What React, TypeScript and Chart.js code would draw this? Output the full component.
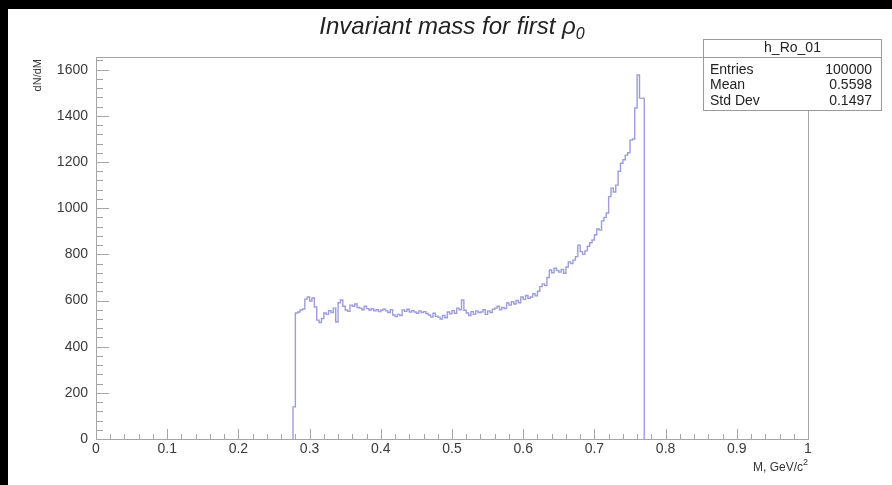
import React, { useEffect, useRef } from "react";
import { Chart, registerables } from "chart.js";

Chart.register(...registerables);

// Histogram h_Ro_01: 300 bins on [0, 1]; counts of the non-empty bins
const nBins = 300;
const firstBin = 83;
const binCounts = [
  139,
  546, 550, 559, 563, 606, 615, 598, 611, 572, 515,
  505, 522, 546, 540, 556, 548, 567, 507, 590, 602,
  575, 559, 553, 580, 575, 585, 570, 567, 560, 575,
  565, 559, 565, 555, 560, 552, 559, 562, 555, 548,
  560, 537, 530, 540, 535, 559, 553, 562, 550, 556,
  550, 545, 555, 548, 552, 544, 537, 528, 545, 532,
  528, 520, 535, 525, 550, 542, 556, 545, 567, 560,
  602, 558, 546, 535, 552, 540, 555, 548, 550, 560,
  540, 555, 548, 562, 567, 575, 560, 570, 565, 589,
  580, 595, 585, 600, 590, 615, 605, 622, 610, 615,
  630, 620, 640, 660, 672, 665, 700, 732, 720, 740,
  730, 723, 735, 718, 745, 767, 760, 775, 790, 840,
  812, 800, 815, 835, 850, 862, 885, 910, 905, 945,
  960, 979, 1050, 1087, 1070, 1100, 1160, 1195, 1210, 1230,
  1240, 1295, 1300, 1434, 1577, 1477, 1477,
];

const xTickLabels = ["0", "0.1", "0.2", "0.3", "0.4", "0.5", "0.6", "0.7", "0.8", "0.9", "1"];
const yTickValues = [0, 200, 400, 600, 800, 1000, 1200, 1400, 1600];

const titleText = "Invariant mass for first \u03c1";
const titleSub = "0";
const statsName = "h_Ro_01";
const statsLabels = ["Entries", "Mean", "Std Dev"];
const statsValues = ["100000", "0.5598", "0.1497"];
const xTitle = "M, GeV/c";
const xTitleSup = "2";
const yTitle = "dN/dM";

const X_MIN = 0;
const X_MAX = 1;
const Y_MIN = 0;
const Y_MAX = 1655;

const FONT = '"Liberation Sans", Arial, Helvetica, sans-serif';

function buildPoints() {
  const pts: { x: number; y: number }[] = [];
  const e0 = firstBin / nBins;
  pts.push({ x: e0, y: 0 });
  binCounts.forEach((c, i) => {
    pts.push({ x: (firstBin + i) / nBins, y: c });
  });
  pts.push({ x: (firstBin + binCounts.length) / nBins, y: 0 });
  return pts;
}

const decorPlugin = {
  id: "rootDecor",
  beforeDraw(chart: any) {
    const { ctx, width, height } = chart;
    ctx.save();
    ctx.fillStyle = "#000";
    ctx.fillRect(0, 0, width, height);
    ctx.fillStyle = "#fff";
    ctx.fillRect(8, 9, width - 8, height - 9);
    ctx.restore();
  },
  afterDraw(chart: any) {
    const { ctx, chartArea } = chart;
    const xs = chart.scales.x;
    const ys = chart.scales.y;
    const { left, right, top, bottom } = chartArea;
    ctx.save();
    // frame
    ctx.strokeStyle = "#a6a6a6";
    ctx.lineWidth = 1;
    ctx.strokeRect(Math.round(left) + 0.5, Math.round(top) + 0.5, Math.round(right - left), Math.round(bottom - top));
    // x ticks (inward)
    ctx.beginPath();
    for (let k = 0; k <= 50; k++) {
      const v = k * 0.02;
      const px = Math.round(xs.getPixelForValue(v)) + 0.5;
      const len = k % 5 === 0 ? 10 : 5;
      ctx.moveTo(px, bottom);
      ctx.lineTo(px, bottom - len);
    }
    // y ticks (inward)
    for (let v = 0; v <= Y_MAX; v += 40) {
      const py = Math.round(ys.getPixelForValue(v)) + 0.5;
      const len = v % 200 === 0 ? 13 : 7;
      ctx.moveTo(left, py);
      ctx.lineTo(left + len, py);
    }
    ctx.stroke();

    // title
    ctx.fillStyle = "#222";
    ctx.textBaseline = "alphabetic";
    ctx.font = `italic 24px ${FONT}`;
    const tw = ctx.measureText(titleText).width;
    ctx.font = `italic 16px ${FONT}`;
    const sw = ctx.measureText(titleSub).width;
    const tx = 452 - (tw + sw) / 2;
    ctx.font = `italic 24px ${FONT}`;
    ctx.textAlign = "left";
    ctx.fillText(titleText, tx, 34);
    ctx.font = `italic 16px ${FONT}`;
    ctx.fillText(titleSub, tx + tw, 39);

    // x title
    ctx.fillStyle = "#333";
    ctx.font = `12px ${FONT}`;
    const mw = ctx.measureText(xTitle).width;
    ctx.font = `9px ${FONT}`;
    const supW = ctx.measureText(xTitleSup).width;
    ctx.textAlign = "left";
    ctx.font = `12px ${FONT}`;
    ctx.fillText(xTitle, right - supW - mw, 471);
    ctx.font = `9px ${FONT}`;
    ctx.fillText(xTitleSup, right - supW, 465);

    // y title
    ctx.save();
    ctx.translate(41, top + 2);
    ctx.rotate(-Math.PI / 2);
    ctx.font = `11px ${FONT}`;
    ctx.textAlign = "right";
    ctx.fillText(yTitle, 0, 0);
    ctx.restore();

    // stats box
    const bx = 703.5, by = 39.5, bw = 178, bh = 71;
    ctx.fillStyle = "#fff";
    ctx.fillRect(bx, by, bw, bh);
    ctx.strokeStyle = "#9a9a9a";
    ctx.strokeRect(bx, by, bw, bh);
    ctx.beginPath();
    ctx.moveTo(bx, 57.5);
    ctx.lineTo(bx + bw, 57.5);
    ctx.stroke();
    ctx.fillStyle = "#222";
    ctx.font = `14px ${FONT}`;
    ctx.textBaseline = "middle";
    ctx.textAlign = "center";
    ctx.fillText(statsName, bx + bw / 2, 48.5);
    const rowsY = [70, 85.5, 101];
    statsLabels.forEach((lab, i) => {
      ctx.textAlign = "left";
      ctx.fillText(lab, 710, rowsY[i]);
      ctx.textAlign = "right";
      ctx.fillText(statsValues[i], 872, rowsY[i]);
    });
    ctx.restore();
  },
};

export default function App() {
  const canvasRef = useRef<HTMLCanvasElement | null>(null);

  useEffect(() => {
    document.body.style.margin = "0";
    const canvas = canvasRef.current;
    if (!canvas) return;
    const chart = new Chart(canvas, {
      type: "line",
      data: {
        datasets: [
          {
            data: buildPoints(),
            borderColor: "#9c9cde",
            borderWidth: 1.4,
            pointRadius: 0,
            stepped: "before",
            fill: false,
            tension: 0,
          },
        ],
      },
      options: {
        animation: false,
        responsive: false,
        devicePixelRatio: 1,
        parsing: false as any,
        layout: { padding: { top: 57, right: 84, left: 0, bottom: 0 } },
        plugins: {
          legend: { display: false },
          tooltip: { enabled: false },
          title: { display: false },
        },
        scales: {
          x: {
            type: "linear",
            min: X_MIN,
            max: X_MAX,
            grid: { display: false, drawTicks: false, tickLength: 0 },
            border: { display: false },
            ticks: {
              stepSize: 0.1,
              autoSkip: false,
              maxRotation: 0,
              padding: 2,
              color: "#3a3a3a",
              font: { family: FONT, size: 14 },
              callback: (v: any) => {
                const idx = Math.round(Number(v) * 10);
                return xTickLabels[idx] ?? "";
              },
            },
            afterFit: (s: any) => {
              s.height = 46;
            },
          },
          y: {
            type: "linear",
            min: Y_MIN,
            max: Y_MAX,
            grid: { display: false, drawTicks: false, tickLength: 0 },
            border: { display: false },
            afterBuildTicks: (s: any) => {
              s.ticks = yTickValues.map((v) => ({ value: v }));
            },
            ticks: {
              autoSkip: false,
              padding: 8,
              color: "#3a3a3a",
              font: { family: FONT, size: 14 },
              callback: (v: any) => String(v),
            },
            afterFit: (s: any) => {
              s.width = 96;
            },
          },
        },
      },
      plugins: [decorPlugin],
    });
    return () => chart.destroy();
  }, []);

  return (
    <div style={{ width: 892, height: 485 }}>
      <canvas ref={canvasRef} width={892} height={485} style={{ display: "block", width: 892, height: 485 }} />
    </div>
  );
}
